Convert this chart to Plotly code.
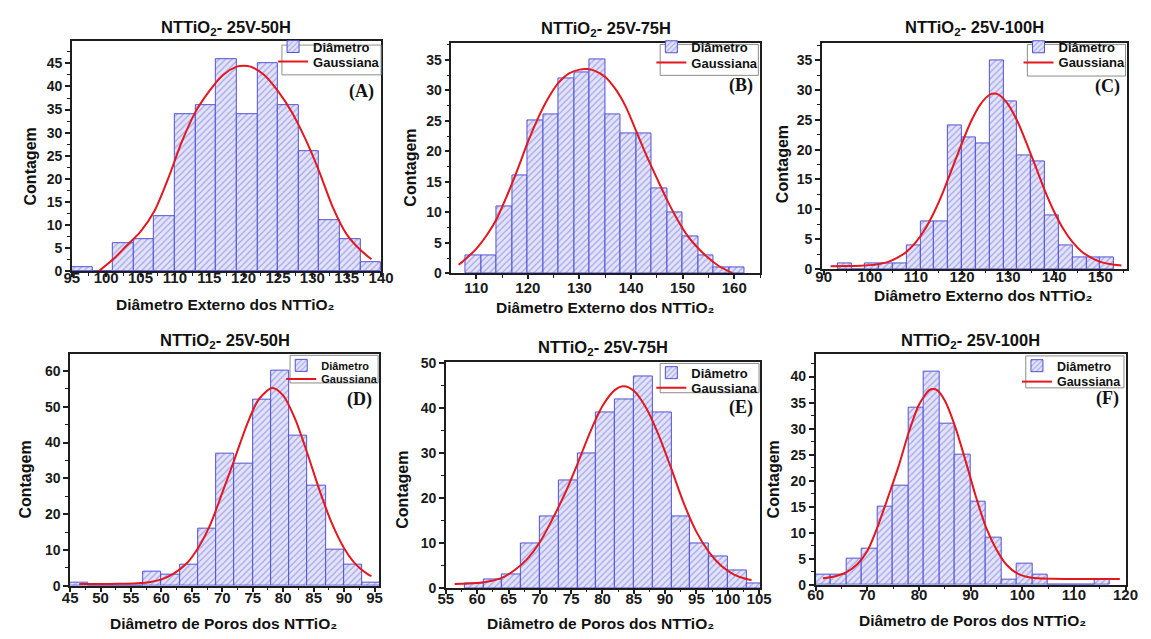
import plotly.graph_objects as go

FIG_W, FIG_H = 1151, 639
BIN_WIDTH = 3

# ---------------- data ----------------
# (A) external diameter, 25V-50H
a_bin_start = [95, 98, 101, 104, 107, 110, 113, 116, 119, 122, 125, 128, 131, 134, 137]
a_counts = [1, 0, 6, 7, 12, 34, 36, 46, 34, 45, 36, 26, 11, 7, 2]
a_fit_x = [98.9, 101, 103, 105, 107, 109, 111, 113, 115, 117, 119, 120, 121, 123, 125, 127, 129, 131, 133, 135, 137, 138.6]
a_fit_y = [0.0, 2.6, 5.6, 8.6, 13.0, 20.0, 28.0, 34.5, 39.0, 42.5, 44.3, 44.5, 44.3, 42.5, 39.0, 34.5, 28.6, 21.6, 13.8, 8.0, 4.6, 2.6]

# (B) external diameter, 25V-75H
b_bin_start = [108, 111, 114, 117, 120, 123, 126, 129, 132, 135, 138, 141, 144, 147, 150, 153, 156, 159]
b_counts = [3, 3, 11, 16, 25, 26, 32, 33, 35, 26, 23, 23, 14, 10, 6, 3, 1, 1]
b_fit_x = [106.6, 108, 110, 112, 114, 116, 118, 120, 122, 124, 126, 128, 130, 131.5, 133, 135, 137, 139, 141, 143, 145, 147, 149, 151, 153, 155, 157, 159.7]
b_fit_y = [1.4, 2.4, 4.0, 6.2, 9.0, 12.8, 17.0, 21.5, 25.5, 28.8, 31.3, 32.8, 33.4, 33.5, 33.2, 32.2, 30.2, 27.3, 23.3, 19.3, 15.6, 12.0, 8.8, 6.1, 4.1, 2.5, 1.2, 0.0]

# (C) external diameter, 25V-100H
c_bin_start = [93, 96, 99, 102, 105, 108, 111, 114, 117, 120, 123, 126, 129, 132, 135, 138, 141, 144, 147, 150]
c_counts = [1, 0, 1, 1, 1, 4, 8, 8, 24, 22, 21, 35, 28, 19, 18, 9, 4, 2, 2, 2]
c_fit_x = [91.5, 95, 98, 100, 102, 104, 106, 108, 110, 112, 114, 116, 118, 120, 122, 124, 126, 127, 128, 130, 132, 134, 136, 138, 140, 142, 144, 146, 148, 150, 152, 154.6]
c_fit_y = [0.45, 0.5, 0.55, 0.65, 0.85, 1.2, 1.9, 2.9, 4.5, 6.7, 9.6, 13.1, 17.1, 21.1, 24.8, 27.6, 29.2, 29.4, 29.2, 27.6, 24.8, 21.1, 17.1, 13.1, 9.6, 6.7, 4.5, 2.9, 1.9, 1.2, 0.85, 0.6]

# (D) pore diameter, 25V-50H
d_bin_start = [45, 48, 51, 54, 57, 60, 63, 66, 69, 72, 75, 78, 81, 84, 87, 90, 93]
d_counts = [1, 0, 0, 0, 4, 3, 6, 16, 37, 34, 52, 60, 42, 28, 10, 6, 1]
d_fit_x = [46.5, 50, 53, 56, 58, 60, 62, 64, 66, 68, 70, 72, 74, 76, 78.2, 80, 82, 84, 86, 88, 90, 92, 94, 94.5]
d_fit_y = [0.5, 0.5, 0.55, 0.7, 1.0, 1.8, 3.4, 6.0, 10.5, 17.0, 26.0, 35.3, 44.8, 52.1, 55.2, 53.1, 46.4, 36.8, 26.5, 17.4, 10.5, 5.85, 3.1, 2.7]

# (E) pore diameter, 25V-75H
e_bin_start = [58, 61, 64, 67, 70, 73, 76, 79, 82, 85, 88, 91, 94, 97, 100, 103]
e_counts = [1, 2, 3, 10, 16, 24, 30, 39, 42, 47, 39, 16, 10, 7, 4, 1]
e_fit_x = [56.4, 60, 62, 64, 66, 68, 70, 72, 74, 76, 78, 80, 82, 83.4, 85, 87, 89, 91, 93, 95, 97, 99, 101, 103, 103.8]
e_fit_y = [0.9, 1.1, 1.5, 2.3, 4.0, 6.5, 10.2, 15.3, 21.0, 27.6, 34.6, 40.5, 44.1, 44.9, 43.9, 40.0, 33.9, 26.5, 18.8, 12.5, 8.0, 4.9, 3.0, 2.0, 1.8]

# (F) pore diameter, 25V-100H
f_bin_start = [60, 63, 66, 69, 72, 75, 78, 81, 84, 87, 90, 93, 96, 99, 102, 105, 108, 111, 114]
f_counts = [2, 2, 5, 7, 15, 19, 34, 41, 31, 25, 16, 9, 1, 4, 2, 0, 0, 0, 1]
f_fit_x = [61.4, 64, 66, 68, 70, 72, 74, 76, 78, 80, 82, 82.7, 83.5, 85, 87, 89, 91, 93, 95, 97, 99, 101, 103, 106, 110, 114, 118.9]
f_fit_y = [1.25, 1.7, 2.45, 3.9, 6.5, 11.2, 16.8, 22.6, 29.2, 34.6, 37.4, 37.6, 37.4, 35.4, 30.4, 23.9, 17.0, 11.0, 6.8, 3.8, 2.2, 1.5, 1.25, 1.15, 1.1, 1.1, 1.1]

panel_titles = ["NTTiO<sub>2</sub>- 25V-50H", "NTTiO<sub>2</sub>- 25V-75H", "NTTiO<sub>2</sub>- 25V-100H",
                "NTTiO<sub>2</sub>- 25V-50H", "NTTiO<sub>2</sub>- 25V-75H", "NTTiO<sub>2</sub>- 25V-100H"]
x_titles = ["Diâmetro Externo dos NTTiO₂"] * 3 + ["Diâmetro de Poros dos NTTiO₂"] * 3
y_title = "Contagem"
panel_labels = ["(A)", "(B)", "(C)", "(D)", "(E)", "(F)"]
legend_names = ["Diâmetro", "Gaussiana"]

# ---------------- layout / style ----------------
SANS = "Liberation Sans, Arial, sans-serif"
SERIF = "Liberation Serif, Times New Roman, serif"
AX_COL = "#1e1e1e"

panels = [
    dict(starts=a_bin_start, counts=a_counts, fx=a_fit_x, fy=a_fit_y,
         box=(65, 35, 380, 270.7), xr=(95, 140), yr=(0, 49.8), xd=5, yd=5, xso=-12,
         title_y=21, xt=(222, 305), yt=(22.7, 163), lab_y=87,
         leg=(279, 39, 380, 69.5), rows=(47, 62.3), leg_font=13, leg_shift=6.5),
    dict(starts=b_bin_start, counts=b_counts, fx=b_fit_x, fy=b_fit_y,
         box=(451.7, 37.3, 766, 272.7), xr=(105.2, 165), yr=(0, 37.7), xd=10, yd=5, xso=-4,
         title_y=23, xt=(609, 308), yt=(410, 165), lab_y=80,
         leg=(664.3, 38.3, 764.3, 70), rows=(47.3, 63.5), leg_font=13, leg_shift=6.5),
    dict(starts=c_bin_start, counts=c_counts, fx=c_fit_x, fy=c_fit_y,
         box=(829, 37.3, 1139.3, 268.3), xr=(89.6, 155.7), yr=(0, 37.8), xd=10, yd=5, xso=-11,
         title_y=22, xt=(994, 295), yt=(788.3, 161), lab_y=81,
         leg=(1038.3, 38.3, 1138.3, 70.7), rows=(47.3, 63.3), leg_font=13, leg_shift=6.5),
    dict(starts=d_bin_start, counts=d_counts, fx=d_fit_x, fy=d_fit_y,
         box=(63.3, 355, 378.3, 592.7), xr=(45, 95.8), yr=(0, 64.8), xd=5, yd=10, xso=-7,
         title_y=341.7, xt=(220, 631.7), yt=(18.3, 484), lab_y=402,
         leg=(287.3, 356.7, 377, 385), rows=(365, 379), leg_font=11, leg_shift=-2),
    dict(starts=e_bin_start, counts=e_counts, fx=e_fit_x, fy=e_fit_y,
         box=(446, 364, 766, 595), xr=(55, 105.15), yr=(0, 50.2), xd=5, yd=10, xso=-8,
         title_y=349, xt=(604, 631.7), yt=(401.7, 494), lab_y=410,
         leg=(664.3, 365, 765, 395), rows=(372.5, 388), leg_font=13, leg_shift=-2),
    dict(starts=f_bin_start, counts=f_counts, fx=f_fit_x, fy=f_fit_y,
         box=(822.7, 355, 1138.3, 591.7), xr=(60, 120), yr=(0, 44.4), xd=10, yd=5, xso=-9,
         title_y=341.7, xt=(982.5, 628), yt=(780, 484), lab_y=401,
         leg=(1036.7, 357.3, 1136.7, 390), rows=(365.7, 382), leg_font=12.5, leg_shift=-2),
]


def fx_(p):
    return p / FIG_W


def fy_(p):
    return 1 - p / FIG_H


def legend_id(k):
    return "legend" if k == 1 else "legend%d" % k


fig = go.Figure()
layout = dict(
    width=FIG_W, height=FIG_H, autosize=False,
    margin=dict(l=0, r=0, t=0, b=0),
    paper_bgcolor="white", plot_bgcolor="white",
    showlegend=True, bargap=0,
)
annotations = []
shapes = []

for i, p in enumerate(panels):
    n = i + 1
    sfx = "" if n == 1 else str(n)
    xa, ya = "x" + sfx, "y" + sfx
    leg_bar = legend_id(2 * i + 1)
    leg_line = legend_id(2 * i + 2)
    x0, y0, x1, y1 = p["box"]

    fig.add_trace(go.Bar(
        x=[s + BIN_WIDTH / 2 for s in p["starts"]], y=p["counts"], width=BIN_WIDTH,
        name=legend_names[0], legend=leg_bar, xaxis=xa, yaxis=ya,
        marker=dict(color="#dcdcf6",
                    line=dict(color="#5252d4", width=1),
                    pattern=dict(shape="/", fgcolor="#6e6edc", bgcolor="#e4e4f9",
                                 size=4.5, solidity=0.32)),
        hoverinfo="skip",
    ))
    fig.add_trace(go.Scatter(
        x=p["fx"], y=p["fy"], mode="lines", name=legend_names[1],
        legend=leg_line, xaxis=xa, yaxis=ya,
        line=dict(color="#e3171c", width=2, shape="spline", smoothing=0.8),
        hoverinfo="skip",
    ))

    common = dict(showline=True, linecolor=AX_COL, linewidth=1.5, mirror=True,
                  ticks="outside", ticklen=5, tickwidth=1.5, tickcolor=AX_COL,
                  showgrid=False, zeroline=False, fixedrange=True)
    layout["xaxis" + sfx] = dict(
        common, domain=[fx_(x0), fx_(x1)], range=list(p["xr"]), anchor=ya,
        tick0=0, dtick=p["xd"], ticklabelstandoff=p["xso"], ticklen=4,
        tickfont=dict(family=SANS, size=15, color="#1a1a1a", weight="bold"),
        minor=dict(ticks="outside", ticklen=2.5, tickwidth=1, tickcolor=AX_COL,
                   dtick=p["xd"] / 2, tick0=0, showgrid=False))
    layout["yaxis" + sfx] = dict(
        common, domain=[fy_(y1), fy_(y0)], range=list(p["yr"]), anchor=xa,
        tick0=0, dtick=p["yd"],
        tickfont=dict(family=SANS, size=14, color="#1a1a1a", weight="bold"),
        minor=dict(ticks="outside", ticklen=3, tickwidth=1, tickcolor=AX_COL,
                   dtick=p["yd"] / 2, tick0=0, showgrid=False))

    lx0, ly0, lx1, ly1 = p["leg"]
    shapes.append(dict(type="rect", xref="paper", yref="paper",
                       x0=fx_(lx0), x1=fx_(lx1), y0=fy_(ly1), y1=fy_(ly0),
                       line=dict(color="#8c8c8c", width=1), fillcolor="white",
                       layer="above"))
    for lid, row in ((leg_bar, p["rows"][0]), (leg_line, p["rows"][1])):
        layout[lid] = dict(
            x=fx_(lx0 - 9), y=fy_(row - p["leg_shift"]), xanchor="left", yanchor="middle",
            xref="paper", yref="paper",
            bgcolor="rgba(0,0,0,0)", borderwidth=0,
            font=dict(family=SANS, size=p["leg_font"], color="#111", weight="bold"),
            tracegroupgap=0, itemwidth=30,
        )

    cx = (x0 + x1) / 2
    annotations.append(dict(
        text=panel_titles[i], x=fx_(cx), y=fy_(p["title_y"]), xref="paper", yref="paper",
        xanchor="center", yanchor="middle", showarrow=False,
        font=dict(family=SANS, size=16.5, color="#111", weight="bold")))
    annotations.append(dict(
        text=x_titles[i], x=fx_(p["xt"][0]), y=fy_(p["xt"][1]), xref="paper", yref="paper",
        xanchor="center", yanchor="middle", showarrow=False,
        font=dict(family=SANS, size=15.5, color="#111", weight="bold")))
    annotations.append(dict(
        text=y_title, x=fx_(p["yt"][0]), y=fy_(p["yt"][1]), xref="paper", yref="paper",
        xanchor="center", yanchor="middle", showarrow=False, textangle=-90,
        font=dict(family=SANS, size=16, color="#111", weight="bold")))
    annotations.append(dict(
        text=panel_labels[i], x=fx_(x1 - 5), y=fy_(p["lab_y"]), xref="paper", yref="paper",
        xanchor="right", yanchor="middle", showarrow=False,
        font=dict(family=SERIF, size=18, color="#111", weight="bold")))

layout["annotations"] = annotations
layout["shapes"] = shapes
fig.update_layout(**layout)
fig.write_html("out.html")
